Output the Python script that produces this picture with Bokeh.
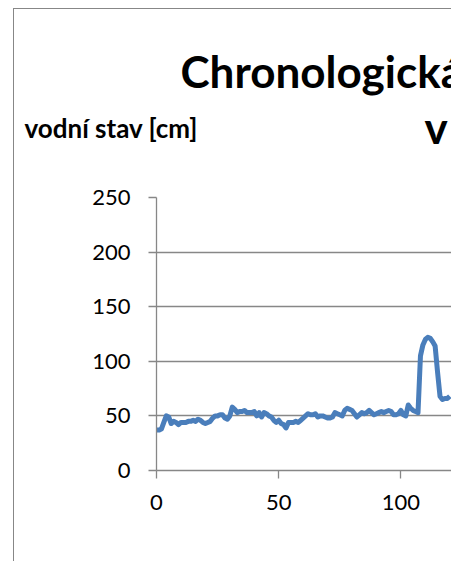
from bokeh.plotting import figure
from bokeh.models import Range1d, FixedTicker, Title
from bokeh.embed import file_html
from bokeh.resources import INLINE

# ---- data ----
days = list(range(0, 121))
water_level = [
    37, 37, 38, 44, 50, 49, 43, 45, 44, 42,
    44, 44, 44, 45, 45, 46, 45, 47, 46, 44,
    43, 44, 45, 48, 50, 50, 51, 51, 48, 47,
    50, 58, 56, 53, 54, 54, 55, 53, 53, 53,
    54, 50, 53, 49, 53, 52, 50, 49, 46, 44,
    46, 43, 42, 39, 44, 44, 44, 45, 44, 46,
    48, 50, 52, 51, 51, 52, 49, 50, 50, 49,
    48, 48, 49, 53, 52, 51, 50, 55, 57, 56,
    55, 52, 49, 51, 53, 52, 53, 55, 53, 51,
    52, 53, 54, 53, 54, 55, 54, 51, 51, 52,
    55, 51, 50, 60, 57, 55, 54, 53, 105, 115,
    120, 122, 121, 118, 114, 90, 68, 65, 66, 66,
    68,
]
x_ticks = [0, 50, 100]
y_ticks = [0, 50, 100, 150, 200, 250]
title_line1 = "Chronologická řada vodních stavů"
title_line2 = "v profilu"
y_label = "vodní stav [cm]"

# ---- layout (page pixels) ----
FRAME_L, FRAME_T, FRAME_R, FRAME_B = 156, 197, 451, 561 - 91
X_MAX, Y_MAX = 120.7, 250
GRAY = "#878787"

p = figure(
    width=FRAME_R, height=561,
    x_range=Range1d(0, X_MAX), y_range=Range1d(0, Y_MAX),
    output_backend="svg", toolbar_location=None,
    min_border_left=FRAME_L, min_border_top=FRAME_T,
    min_border_right=0, min_border_bottom=91,
    background_fill_color="white", border_fill_color=None,
    outline_line_color=None,
)
p.styles = {
    "background": (
        f"linear-gradient({GRAY},{GRAY}) 13px 8px / 1px 100% no-repeat, "
        f"linear-gradient({GRAY},{GRAY}) 13px 8px / 100% 1px no-repeat, white"
    )
}

p.xgrid.visible = False
p.ygrid.grid_line_color = GRAY
p.ygrid.grid_line_width = 1.3
p.ygrid.ticker = FixedTicker(ticks=y_ticks)

for ax in (p.xaxis[0], p.yaxis[0]):
    ax.axis_line_color = GRAY
    ax.axis_line_width = 1.3
    ax.major_tick_line_color = GRAY
    ax.major_tick_line_width = 1.3
    ax.major_tick_in = 0
    ax.major_tick_out = 8
    ax.minor_tick_line_color = None
    ax.major_label_text_font = "Lato"
    ax.major_label_text_font_size = "22px"
    ax.major_label_text_color = "black"
p.xaxis.ticker = FixedTicker(ticks=x_ticks)
p.yaxis.ticker = FixedTicker(ticks=y_ticks)
p.xaxis.major_label_standoff = 16
p.yaxis.major_label_standoff = 18

p.line(days, water_level, line_color="#4a7ebb", line_width=5, line_join="round")

# rows of the "above" panel, nearest the plot first
for text, offset, size, standoff in [
    (title_line2, 268, "44px", 90),
    (title_line1, 24, "44px", -87),
    (y_label, -132, "26px", -180),
]:
    p.add_layout(Title(text=text, align="left", offset=offset,
                       vertical_align="bottom", standoff=standoff,
                       text_font="Lato", text_font_style="bold",
                       text_font_size=size, text_color="black"), "above")

open("out.html", "w").write(file_html(p, INLINE))
